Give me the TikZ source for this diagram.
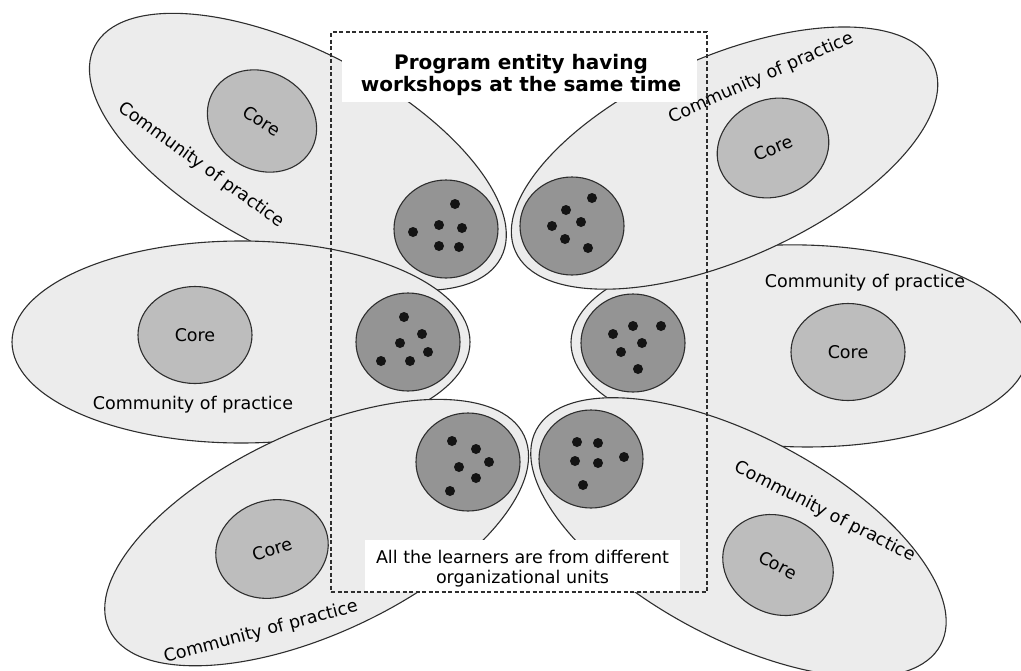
\documentclass[tikz,border=0pt]{standalone}
\usepackage{fontspec}
\setmainfont{DejaVu Sans}
\usetikzlibrary{shapes.geometric}

\definecolor{petalfill}{gray}{0.925}
\definecolor{corefill}{gray}{0.74}
\definecolor{groupfill}{gray}{0.58}
\definecolor{inkline}{gray}{0.18}
\definecolor{dotcol}{gray}{0.08}

\begin{document}
\begin{tikzpicture}[x=1pt,y=-1pt,
  petalline/.style={draw=inkline, line width=1.1pt, fill=petalfill},
  corenode/.style={ellipse, draw=inkline, line width=1.1pt, fill=corefill,
    minimum width=114pt, minimum height=97pt, inner sep=0pt,
    font=\fontsize{17.5}{20}\selectfont},
  groupnode/.style={ellipse, draw=inkline, line width=1.1pt, fill=groupfill,
    minimum width=104pt, minimum height=98pt, inner sep=0pt},
  coplabel/.style={font=\fontsize{17.5}{20}\selectfont, inner sep=0pt},
  learner/.style={fill=dotcol},
  % a community: long ellipse whose inner end holds the group of learners
  petal/.pic={
    \path[petalline] (167,0) ellipse [x radius=229, y radius=101];
  }
]
\useasboundingbox (0,0) rectangle (1021,670);
\clip (0,0) rectangle (1021,670);

% upper left community
\pic[rotate=152.5] (petalTL) at (446,229) {petal};
\node[corenode, rotate=-33] (coreTL) at (262,121) {Core};
\node[coplabel, rotate=-36] (copTL) at (201,165) {Community of practice};
\node[groupnode] (groupTL) at (446,229) {};
\foreach \p in {(455,204),(413,232),(439,225),(462,228),(439,246),(459,247)}
  \fill[learner] \p circle[radius=5];

% middle right community
\pic[rotate=-1] (petalMR) at (633,343) {petal};
\node[corenode] (coreMR) at (848,352) {Core};
\node[coplabel] (copMR) at (865,283) {Community of practice};
\node[groupnode] (groupMR) at (633,343) {};
\foreach \p in {(633,326),(661,326),(613,334),(642,343),(621,352),(638,369)}
  \fill[learner] \p circle[radius=5];

% middle left community
\pic[rotate=180] (petalML) at (408,342) {petal};
\node[corenode] (coreML) at (195,335) {Core};
\node[coplabel] (copML) at (193,405) {Community of practice};
\node[groupnode] (groupML) at (408,342) {};
\foreach \p in {(404,317),(422,334),(400,343),(428,352),(381,361),(410,361)}
  \fill[learner] \p circle[radius=5];

% upper right community
\pic[rotate=24] (petalTR) at (572,226) {petal};
\node[corenode, rotate=23] (coreTR) at (773,148) {Core};
\node[coplabel, rotate=24] (copTR) at (761,78) {Community of practice};
\node[groupnode] (groupTR) at (572,226) {};
\foreach \p in {(592,198),(566,210),(552,226),(581,222),(565,239),(588,248)}
  \fill[learner] \p circle[radius=5];

% lower left community
\pic[rotate=205] (petalBL) at (468,462) {petal};
\node[corenode, rotate=18] (coreBL) at (272,549) {Core};
\node[coplabel, rotate=15] (copBL) at (261,632) {Community of practice};
\node[groupnode] (groupBL) at (468,462) {};
\foreach \p in {(452,441),(476,449),(459,467),(489,462),(476,478),(450,491)}
  \fill[learner] \p circle[radius=5];

% lower right community
\pic[rotate=-28] (petalBR) at (591,459) {petal};
\node[corenode, rotate=-28] (coreBR) at (778,565) {Core};
\node[coplabel, rotate=-27] (copBR) at (825,512) {Community of practice};
\node[groupnode] (groupBR) at (591,459) {};
\foreach \p in {(577,442),(598,443),(575,461),(598,463),(624,457),(583,485)}
  \fill[learner] \p circle[radius=5];

% program entity frame with its captions
\node[fill=white, minimum width=355pt, minimum height=64pt, inner sep=0pt] (titlebox) at (519.5,70) {};
\node[font=\bfseries\fontsize{20}{22}\selectfont, align=center, inner sep=0pt] (title) at (521,75)
  {Program entity having\\workshops at the same time};
\node[fill=white, minimum width=315pt, minimum height=52pt, inner sep=0pt] (notebox) at (522.5,566) {};
\node[coplabel, align=center] (note) at (522.5,569)
  {All the learners are from different\\organizational units};
\node[draw=inkline, line width=1.1pt, dash pattern=on 4pt off 2.5pt,
  minimum width=376pt, minimum height=560pt, inner sep=0pt] (entity) at (519,312) {};
\end{tikzpicture}
\end{document}
